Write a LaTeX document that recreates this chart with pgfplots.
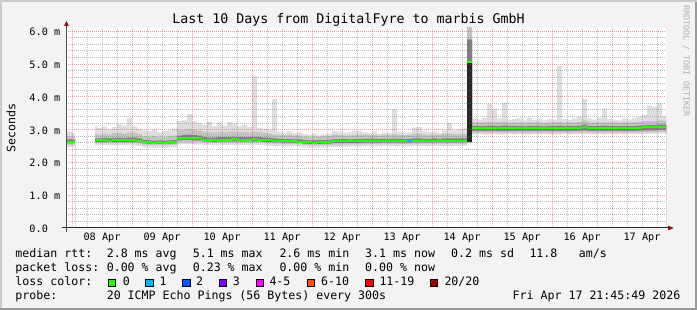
\documentclass[border=0pt]{standalone}
\usepackage{fontspec}
\setmainfont{DejaVu Sans Mono}
\usepackage{pgfplots}
\pgfplotsset{compat=1.18}
\usepackage{pgfplotstable}

\definecolor{bg}{RGB}{243,243,243}
\definecolor{shadea}{RGB}{203,203,203}
\definecolor{shadeb}{RGB}{153,153,153}
\definecolor{smokeA}{RGB}{222,222,222}
\definecolor{smokeB}{RGB}{194,194,194}
\definecolor{smokeC}{RGB}{128,128,128}
\definecolor{smokeD}{RGB}{38,38,38}
\definecolor{mgrid}{RGB}{230,40,40}
\definecolor{ngrid}{RGB}{120,120,120}
\definecolor{arrowc}{RGB}{140,25,25}
\definecolor{wmc}{RGB}{175,175,175}
\definecolor{lA}{HTML}{26FF00}
\definecolor{lB}{HTML}{00B8FF}
\definecolor{lC}{HTML}{0059FF}
\definecolor{lD}{HTML}{7E00FF}
\definecolor{lE}{HTML}{FF00FF}
\definecolor{lF}{HTML}{FF5500}
\definecolor{lG}{HTML}{FF0000}
\definecolor{lH}{HTML}{A10000}

\newcommand{\tickfont}{\fontsize{10.2}{12}\selectfont}
\newcommand{\legfont}{\fontsize{11.6}{13}\selectfont}
\newcommand{\titfont}{\fontsize{13.3}{15}\selectfont}
\newcommand{\wmfont}{\fontsize{8.4}{10}\selectfont}

\pgfplotsset{
  frame/.style={
    at={(66.4pt,82pt)}, anchor=south west,
    scale only axis, width=600pt, height=200pt,
    xmin=-2.25, xmax=237.75, ymin=0, ymax=6.1,
  },
}

% hours since 08 Apr 00:00 ; values in ms
\pgfplotstableread{
x mn alo blo md bhi ahi mx
-2.25 2.47 2.54 2.58 2.63 2.70 2.80 2.94
0 2.48 2.55 2.59 2.63 2.69 2.78 2.90
1.2 2.48 2.55 2.59 2.63 2.69 2.78 2.90
}\segA

\pgfplotstableread{
x mn alo blo md bhi ahi mx
9.2 2.52 2.58 2.62 2.67 2.73 2.86 3.12
10 2.52 2.58 2.62 2.67 2.73 2.84 3.05
12 2.53 2.59 2.63 2.67 2.74 2.88 3.10
14 2.52 2.58 2.62 2.66 2.73 2.85 3.02
16 2.52 2.58 2.62 2.67 2.74 2.90 3.08
18 2.53 2.59 2.63 2.68 2.75 2.90 3.16
20 2.52 2.58 2.62 2.67 2.74 2.88 3.12
22 2.53 2.59 2.63 2.68 2.76 2.92 3.36
24 2.52 2.59 2.63 2.69 2.76 2.90 3.10
26 2.50 2.57 2.61 2.66 2.73 2.86 3.02
28 2.46 2.54 2.58 2.62 2.68 2.80 2.98
30 2.45 2.53 2.57 2.61 2.67 2.78 2.95
32 2.44 2.53 2.57 2.60 2.66 2.80 3.00
34 2.45 2.53 2.57 2.61 2.67 2.78 2.92
36 2.44 2.52 2.56 2.60 2.66 2.77 2.96
38 2.45 2.53 2.57 2.61 2.67 2.80 2.98
40 2.46 2.54 2.58 2.62 2.68 2.82 3.02
42 2.55 2.62 2.67 2.73 2.82 2.98 3.26
44 2.56 2.63 2.68 2.74 2.84 3.00 3.28
46 2.56 2.63 2.68 2.75 2.85 3.02 3.47
48 2.55 2.62 2.67 2.74 2.83 2.98 3.25
50 2.55 2.62 2.67 2.73 2.82 2.96 3.20
52 2.53 2.60 2.64 2.69 2.77 2.92 3.14
54 2.53 2.60 2.64 2.68 2.76 2.92 3.24
56 2.52 2.59 2.63 2.68 2.76 2.90 3.10
58 2.53 2.60 2.64 2.69 2.77 2.93 3.22
60 2.53 2.60 2.64 2.69 2.77 2.92 3.12
62 2.53 2.60 2.64 2.69 2.77 2.94 3.24
64 2.53 2.60 2.64 2.70 2.78 2.94 3.18
66 2.53 2.60 2.64 2.69 2.77 2.92 3.10
68 2.53 2.60 2.64 2.69 2.77 2.93 3.14
70 2.53 2.60 2.64 2.69 2.77 2.92 3.08
72 2.53 2.60 2.64 2.70 2.78 2.94 4.63
74 2.53 2.60 2.64 2.69 2.77 2.92 3.06
76 2.52 2.59 2.63 2.68 2.76 2.90 3.02
78 2.51 2.58 2.62 2.67 2.74 2.88 3.00
80 2.50 2.57 2.61 2.66 2.73 2.85 3.93
82 2.50 2.57 2.61 2.66 2.72 2.84 2.94
84 2.49 2.56 2.60 2.64 2.71 2.83 2.92
86 2.49 2.56 2.60 2.64 2.71 2.84 2.95
88 2.49 2.56 2.60 2.64 2.70 2.82 2.90
90 2.48 2.55 2.59 2.63 2.70 2.82 2.92
92 2.46 2.53 2.57 2.61 2.68 2.79 2.86
94 2.45 2.52 2.56 2.61 2.67 2.78 2.85
96 2.45 2.52 2.56 2.60 2.67 2.79 2.88
98 2.45 2.52 2.56 2.61 2.68 2.78 2.84
100 2.46 2.53 2.57 2.62 2.68 2.80 2.86
102 2.46 2.53 2.57 2.62 2.69 2.80 2.88
104 2.47 2.54 2.59 2.64 2.71 2.84 2.96
106 2.47 2.54 2.59 2.64 2.71 2.83 2.94
108 2.48 2.55 2.59 2.64 2.71 2.82 2.90
110 2.48 2.55 2.59 2.64 2.70 2.82 2.92
112 2.48 2.55 2.59 2.64 2.71 2.84 2.98
114 2.48 2.55 2.59 2.64 2.71 2.84 2.96
116 2.49 2.56 2.60 2.65 2.72 2.84 2.92
118 2.49 2.56 2.60 2.65 2.72 2.83 2.90
120 2.49 2.56 2.60 2.65 2.72 2.84 2.94
122 2.49 2.56 2.60 2.65 2.71 2.82 2.88
124 2.50 2.57 2.61 2.65 2.72 2.84 2.92
126 2.49 2.56 2.60 2.65 2.72 2.83 2.90
128 2.50 2.57 2.61 2.65 2.72 2.86 3.63
130 2.49 2.56 2.60 2.65 2.72 2.84 2.94
132 2.49 2.56 2.60 2.65 2.71 2.83 2.90
134 2.49 2.56 2.60 2.64 2.71 2.84 2.92
136 2.50 2.57 2.61 2.66 2.73 2.88 3.06
138 2.50 2.57 2.61 2.66 2.73 2.88 3.08
140 2.50 2.57 2.61 2.66 2.72 2.85 2.96
142 2.50 2.57 2.61 2.66 2.72 2.84 2.92
144 2.50 2.57 2.61 2.66 2.73 2.85 2.94
146 2.50 2.57 2.61 2.66 2.72 2.84 2.90
148 2.50 2.57 2.61 2.66 2.73 2.86 2.98
150 2.50 2.57 2.61 2.66 2.73 2.88 3.20
152 2.50 2.57 2.61 2.66 2.73 2.86 2.98
154 2.50 2.57 2.61 2.66 2.73 2.86 3.02
156 2.50 2.57 2.61 2.66 2.73 2.86 3.04
158 2.58 2.60 2.62 5.07 5.75 6.30 6.30
160 2.85 2.90 2.96 3.05 3.11 3.22 3.34
162 2.86 2.91 2.96 3.05 3.11 3.21 3.30
164 2.85 2.90 2.96 3.04 3.11 3.22 3.36
166 2.85 2.90 2.96 3.05 3.12 3.24 3.78
168 2.86 2.91 2.96 3.04 3.11 3.22 3.63
170 2.85 2.90 2.96 3.05 3.11 3.22 3.34
172 2.85 2.90 2.96 3.05 3.12 3.24 3.82
174 2.86 2.91 2.96 3.04 3.11 3.21 3.30
176 2.85 2.90 2.96 3.05 3.11 3.22 3.32
178 2.86 2.91 2.96 3.05 3.11 3.21 3.34
180 2.85 2.90 2.96 3.04 3.10 3.20 3.28
182 2.85 2.90 2.96 3.05 3.11 3.22 3.36
184 2.86 2.91 2.96 3.05 3.11 3.21 3.30
186 2.85 2.90 2.96 3.05 3.11 3.22 3.34
188 2.86 2.91 2.96 3.04 3.10 3.20 3.28
190 2.85 2.90 2.96 3.05 3.11 3.21 3.32
192 2.85 2.90 2.96 3.05 3.11 3.22 3.30
194 2.85 2.90 2.96 3.05 3.12 3.24 4.94
196 2.86 2.91 2.96 3.05 3.11 3.21 3.32
198 2.85 2.90 2.96 3.05 3.11 3.22 3.30
200 2.86 2.91 2.96 3.05 3.11 3.21 3.34
202 2.86 2.91 2.97 3.06 3.12 3.23 3.38
204 2.87 2.92 2.98 3.08 3.15 3.28 3.93
206 2.86 2.91 2.96 3.05 3.11 3.22 3.34
208 2.85 2.90 2.96 3.05 3.11 3.21 3.30
210 2.86 2.91 2.96 3.05 3.11 3.22 3.36
212 2.85 2.90 2.96 3.05 3.12 3.24 3.65
214 2.86 2.91 2.96 3.04 3.11 3.21 3.32
216 2.85 2.90 2.96 3.05 3.11 3.22 3.30
218 2.86 2.91 2.96 3.05 3.11 3.21 3.28
220 2.85 2.90 2.96 3.04 3.11 3.22 3.34
222 2.86 2.91 2.96 3.05 3.11 3.21 3.30
224 2.86 2.91 2.96 3.05 3.11 3.22 3.36
226 2.86 2.91 2.97 3.05 3.12 3.23 3.40
228 2.87 2.92 2.98 3.07 3.13 3.25 3.45
230 2.87 2.92 2.98 3.07 3.14 3.26 3.74
232 2.87 2.92 2.98 3.07 3.14 3.26 3.70
234 2.88 2.93 2.99 3.09 3.15 3.28 3.80
236 2.88 2.93 2.99 3.09 3.15 3.27 3.42
237.75 2.88 2.93 2.99 3.09 3.15 3.27 3.42
}\segB

\pgfplotstableread{
x hi
158 5.07
160 5.07
}\spike

\pgfplotstableread{
x md
134 2.64
136 2.64
}\lossone

\begin{document}
\begin{tikzpicture}
% background and frame
\fill[bg] (0pt,0pt) rectangle (697pt,310pt);
\fill[shadea] (0pt,308pt) rectangle (697pt,310pt);
\fill[shadea] (0pt,0pt) rectangle (2pt,310pt);
\fill[shadeb] (0pt,0pt) rectangle (697pt,2pt);
\fill[shadeb] (695pt,0pt) rectangle (697pt,308pt);
% canvas
\fill[white] (66.4pt,82pt) rectangle (666.4pt,282pt);

% ===== layer 1: smoke (painted from the top boundary down, each area closed to zero)
\begin{axis}[frame, hide axis,
  smoke/.style={draw=none, const plot mark left}]
\addplot[smoke, fill=smokeA] table[x=x,y=mx]{\segA} \closedcycle;
\addplot[smoke, fill=smokeB] table[x=x,y=ahi]{\segA} \closedcycle;
\addplot[smoke, fill=smokeC] table[x=x,y=bhi]{\segA} \closedcycle;
\addplot[smoke, fill=smokeB] table[x=x,y=blo]{\segA} \closedcycle;
\addplot[smoke, fill=smokeA] table[x=x,y=alo]{\segA} \closedcycle;
\addplot[smoke, fill=white] table[x=x,y=mn]{\segA} \closedcycle;
\addplot[smoke, fill=smokeA] table[x=x,y=mx]{\segB} \closedcycle;
\addplot[smoke, fill=smokeB] table[x=x,y=ahi]{\segB} \closedcycle;
\addplot[smoke, fill=smokeC] table[x=x,y=bhi]{\segB} \closedcycle;
\addplot[smoke, fill=smokeD] table[x=x,y=hi]{\spike} \closedcycle;
\addplot[smoke, fill=smokeB] table[x=x,y=blo]{\segB} \closedcycle;
\addplot[smoke, fill=smokeA] table[x=x,y=alo]{\segB} \closedcycle;
\addplot[smoke, fill=white] table[x=x,y=mn]{\segB} \closedcycle;
\end{axis}

% ===== layer 2: translucent grid, tick labels and the median
\begin{axis}[frame,
  axis line style={draw=none},
  major tick length=0pt, minor tick length=0pt,
  xtick={12,36,60,84,108,132,156,180,204,228},
  xticklabels={08 Apr,09 Apr,10 Apr,11 Apr,12 Apr,13 Apr,14 Apr,15 Apr,16 Apr,17 Apr},
  minor xtick={6,12,18,30,36,42,54,60,66,78,84,90,102,108,114,126,132,138,150,156,162,174,180,186,198,204,210,222,228,234},
  extra x ticks={0,24,48,72,96,120,144,168,192,216},
  extra x tick labels={},
  extra x tick style={grid=major},
  ytick={0,1,2,3,4,5,6},
  yticklabels={0.0\hphantom{mm},1.0 m,2.0 m,3.0 m,4.0 m,5.0 m,6.0 m},
  minor y tick num=4,
  xmajorgrids=false, xminorgrids=true, ymajorgrids=true, yminorgrids=true,
  major grid style={draw=mgrid, draw opacity=0.45, line width=1pt, dash pattern=on 1pt off 1pt},
  minor grid style={draw=ngrid, draw opacity=0.5, line width=1pt, dash pattern=on 1pt off 1pt},
  ticklabel style={font=\tickfont},
  xticklabel style={anchor=base, inner sep=0pt, yshift=-12.7pt},
  yticklabel style={anchor=base east, inner sep=0pt, xshift=-6pt, yshift=-4.4pt},
  med/.style={line width=2pt, jump mark left},
]
\addplot[med, lA] table[x=x,y=md]{\segA};
\addplot[med, lA] table[x=x,y=md]{\segB};
\addplot[med, lB] table[x=x,y=md]{\lossone};
\end{axis}

% axes with arrows
\draw[black!85, line width=1pt] (62.3pt,82pt) -- (668.5pt,82pt);
\fill[arrowc] (668pt,79.5pt) -- (673.8pt,82pt) -- (668pt,84.5pt) -- cycle;
\draw[black!70, line width=1pt] (66.4pt,78pt) -- (66.4pt,284.5pt);
\fill[arrowc] (63.9pt,284pt) -- (66.4pt,289pt) -- (68.9pt,284pt) -- cycle;

% title, unit, watermark
\node[anchor=base, inner sep=0pt, font=\titfont] at (348.5pt,286pt) {Last 10 Days from DigitalFyre to marbis GmbH};
\node[rotate=90, anchor=base, inner sep=0pt, font=\legfont] at (15.3pt,182pt) {Seconds};
\node[rotate=-90, anchor=base west, inner sep=0pt, font=\wmfont, text=wmc] at (683.5pt,305pt) {RRDTOOL / TOBI OETIKER};

% legend rows
\begin{scope}[every node/.style={anchor=base west, inner sep=0pt, font=\legfont}]
\node at (15.3pt,52.3pt) {median rtt:};
\node at (106.6pt,52.3pt) {2.8 ms avg};
\node at (192.6pt,52.3pt) {5.1 ms max};
\node at (279.3pt,52.3pt) {2.6 ms min};
\node at (365.0pt,52.3pt) {3.1 ms now};
\node at (451.0pt,52.3pt) {0.2 ms sd};
\node at (529.3pt,52.3pt) {11.8};
\node at (578.6pt,52.3pt) {am/s};

\node at (15.3pt,38.3pt) {packet loss:};
\node at (106.6pt,38.3pt) {0.00 \% avg};
\node at (192.6pt,38.3pt) {0.23 \% max};
\node at (279.3pt,38.3pt) {0.00 \% min};
\node at (365.0pt,38.3pt) {0.00 \% now};

\node at (15.3pt,24.3pt) {loss color:};
\node at (122.6pt,24.3pt) {0};
\node at (159.3pt,24.3pt) {1};
\node at (196.0pt,24.3pt) {2};
\node at (232.6pt,24.3pt) {3};
\node at (269.3pt,24.3pt) {4-5};
\node at (321.0pt,24.3pt) {6-10};
\node at (379.3pt,24.3pt) {11-19};
\node at (444.3pt,24.3pt) {20/20};

\node at (15.3pt,10.7pt) {probe:};
\node at (106.6pt,10.7pt) {20 ICMP Echo Pings (56 Bytes) every 300s};
\node[anchor=base east] at (680.5pt,10.7pt) {Fri Apr 17 21:45:49 2026};
\end{scope}

% loss colour swatches
\foreach \xx/\cc in {108.3/lA,145.7/lB,182.7/lC,219.3/lD,256/lE,307.3/lF,365.7/lG,430/lH}{
  \filldraw[fill=\cc, draw=black, line width=0.8pt] (\xx pt,23.4pt) rectangle ++(7.4pt,7.4pt);
}
\end{tikzpicture}
\end{document}
